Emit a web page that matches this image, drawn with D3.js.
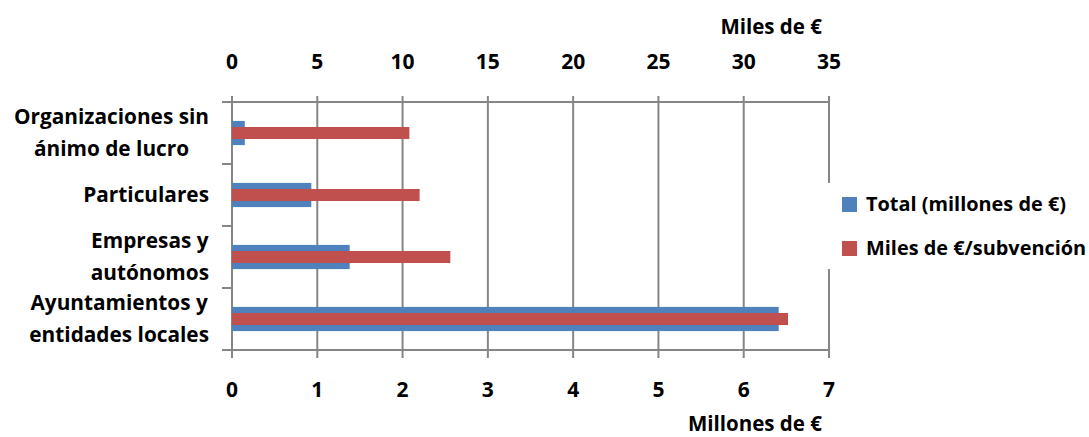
<!DOCTYPE html>
<html><head><meta charset="utf-8">
<script src="https://cdn.jsdelivr.net/npm/d3@7"></script>
<style>
html,body{margin:0;padding:0;background:#fff;}
svg text{font-family:"Open Sans","Liberation Sans",sans-serif;font-weight:bold;fill:#000;}
</style></head>
<body>
<svg id="chart" width="1089" height="437"></svg>
<script>
const categories = ["Organizaciones sin ánimo de lucro", "Particulares", "Empresas y autónomos", "Ayuntamientos y entidades locales"];
const categoryLines = [["Organizaciones sin", "ánimo de lucro"], ["Particulares"], ["Empresas y", "autónomos"], ["Ayuntamientos y", "entidades locales"]];
const totalMillones = [0.15, 0.93, 1.38, 6.41];
const milesPorSubvencion = [10.4, 11.0, 12.8, 32.6];
const bottomTicks = [0, 1, 2, 3, 4, 5, 6, 7];
const topTicks = [0, 5, 10, 15, 20, 25, 30, 35];
const seriesNames = ["Total (millones de €)", "Miles de €/subvención"];
const bottomTitle = "Millones de €";
const topTitle = "Miles de €";

const colors = ["#4F81BD", "#C0504D"];
const gridColor = "#868686";
const svg = d3.select("#chart");

const L = 232, R = 829, T = 102, B = 350;
const x = d3.scaleLinear().domain([0, 7]).range([L, R]);
const x2 = d3.scaleLinear().domain([0, 35]).range([L, R]);
const y = d3.scaleBand().domain(categories).range([T, B]);
const bw = y.bandwidth();

// gridlines + ticks
svg.append("g").selectAll("line").data(bottomTicks).join("line")
  .attr("x1", d => x(d)).attr("x2", d => x(d))
  .attr("y1", T - 6).attr("y2", B + 8)
  .attr("stroke", gridColor).attr("stroke-width", 2);

// bars
const g = svg.append("g");
g.selectAll("rect.total").data(categories).join("rect")
  .attr("x", x(0)).attr("width", (d, i) => x(totalMillones[i]) - x(0))
  .attr("y", d => y(d) + bw / 2 - bw * 0.195).attr("height", bw * 0.39)
  .attr("fill", colors[0]);
g.selectAll("rect.miles").data(categories).join("rect")
  .attr("x", x2(0)).attr("width", (d, i) => x2(milesPorSubvencion[i]) - x2(0))
  .attr("y", d => y(d) + bw / 2 - bw * 0.097).attr("height", bw * 0.194)
  .attr("fill", colors[1]);

// axis lines
svg.append("line").attr("x1", L - 10).attr("x2", R + 1).attr("y1", T).attr("y2", T)
  .attr("stroke", gridColor).attr("stroke-width", 2);
svg.append("line").attr("x1", L - 10).attr("x2", R + 1).attr("y1", B).attr("y2", B)
  .attr("stroke", gridColor).attr("stroke-width", 2);
// category ticks
const bounds = categories.map(c => y(c)).concat([B]);
svg.append("g").selectAll("line").data(bounds).join("line")
  .attr("x1", L - 10).attr("x2", L).attr("y1", d => d).attr("y2", d => d)
  .attr("stroke", gridColor).attr("stroke-width", 2);

// tick labels
svg.append("g").selectAll("text").data(bottomTicks).join("text")
  .attr("x", d => x(d)).attr("y", 390).attr("dy", "0.35em")
  .attr("text-anchor", "middle").style("font-size", "21px").text(d => d);
svg.append("g").selectAll("text").data(topTicks).join("text")
  .attr("x", d => x2(d)).attr("y", 62).attr("dy", "0.35em")
  .attr("text-anchor", "middle").style("font-size", "21px").text(d => d);

// axis titles
svg.append("text").attr("x", 822).attr("y", 424).attr("dy", "0.35em")
  .attr("text-anchor", "end").style("font-size", "20.5px").text(bottomTitle);
svg.append("text").attr("x", 822).attr("y", 27).attr("dy", "0.35em")
  .attr("text-anchor", "end").style("font-size", "20.5px").text(topTitle);

// category labels
const lineH = 32;
categories.forEach((c, i) => {
  const lines = categoryLines[i];
  const cy = y(c) + bw / 2;
  const gl = svg.append("g");
  const texts = gl.selectAll("text").data(lines).join("text")
    .attr("y", (d, j) => cy + (j - (lines.length - 1) / 2) * lineH)
    .attr("dy", "0.35em").attr("text-anchor", "middle")
    .style("font-size", "20.8px").text(d => d);
  let maxW = 0;
  texts.each(function () { maxW = Math.max(maxW, this.getComputedTextLength()); });
  texts.attr("x", 209 - maxW / 2);
});

// legend
svg.append("rect").attr("x", 826).attr("y", 183).attr("width", 260).attr("height", 86).attr("fill", "#fff");
const leg = svg.append("g").selectAll("g").data(seriesNames).join("g")
  .attr("transform", (d, i) => `translate(842,${204.5 + i * 44})`);
leg.append("rect").attr("x", 0).attr("y", -7.5).attr("width", 15).attr("height", 15)
  .attr("fill", (d, i) => colors[i]);
leg.append("text").attr("x", 24).attr("y", 0).attr("dy", "0.35em")
  .style("font-size", "19.9px").text(d => d);
</script>
</body></html>
